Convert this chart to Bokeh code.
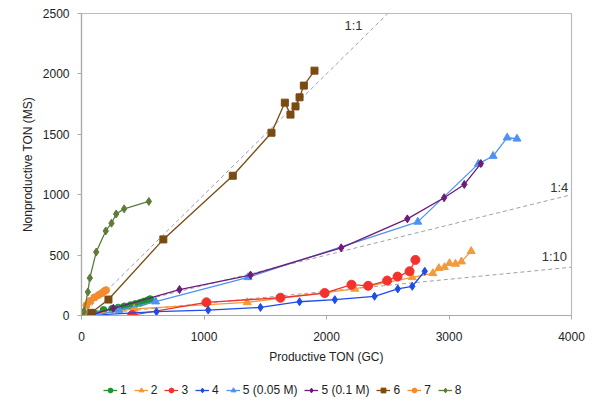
from bokeh.plotting import figure
from bokeh.layouts import column
from bokeh.models import Legend, LegendItem, FixedTicker, Label
from bokeh.embed import file_html
from bokeh.resources import INLINE

# ---- data ----
s1_x = [20, 100, 180, 250, 300, 350, 400, 440, 480, 510, 540, 560]
s1_y = [5, 20, 45, 55, 65, 75, 85, 95, 105, 115, 125, 135]
s2_x = [20, 430, 1353, 2231, 2700, 2868, 2917, 2963, 3004, 3053, 3102, 3181]
s2_y = [5, 55, 109, 220, 316, 349, 391, 399, 432, 427, 446, 532]
s3_x = [414, 1020, 1624, 1985, 2204, 2340, 2495, 2580, 2678, 2726]
s3_y = [4, 109, 147, 186, 255, 246, 289, 322, 366, 460]
s4_x = [0, 130, 612, 1034, 1461, 1780, 2068, 2392, 2582, 2700, 2802]
s4_y = [0, 5, 32, 45, 67, 114, 131, 159, 220, 242, 366]
s5a_x = [5, 135, 305, 605, 1360, 2745, 3240, 3360, 3475, 3555]
s5a_y = [0, 5, 45, 115, 316, 775, 1255, 1320, 1472, 1463]
s5b_x = [90, 260, 800, 1380, 2120, 2660, 2960, 3125, 3260]
s5b_y = [10, 60, 215, 335, 560, 800, 975, 1085, 1258]
s6_x = [80, 220, 668, 1235, 1551, 1660, 1706, 1747, 1780, 1815, 1902]
s6_y = [22, 132, 630, 1157, 1513, 1762, 1663, 1731, 1806, 1903, 2027]
s7_x = [10, 40, 70, 105, 140, 165, 185, 200]
s7_y = [15, 85, 120, 150, 170, 185, 200, 210]
s8_x = [5, 20, 52, 68, 120, 198, 245, 283, 348, 550]
s8_y = [5, 35, 195, 310, 525, 700, 764, 840, 883, 944]

series_names = ["1", "2", "3", "4", "5 (0.05 M)", "5 (0.1 M)", "6", "7", "8"]

ref_labels = ["1:1", "1:4", "1:10"]
ref_x_end = [2500, 4000, 4000]
ref_y_end = [2500, 1000, 400]
ref_label_x = [2220, 3900, 3860]
ref_label_y = [2400, 1060, 490]

x_ticks = [0, 1000, 2000, 3000, 4000]
y_ticks = [0, 500, 1000, 1500, 2000, 2500]

# ---- styling ----
FONT = "Liberation Sans"
colors = ["#1E9330", "#F39A3A", "#F2322B", "#1F4BE8", "#4F92F5",
          "#6D1C78", "#7B4A12", "#F58A2E", "#5C7C38"]
markers = ["circle", "triangle", "circle", "diamond", "triangle",
           "diamond", "square", "circle", "diamond"]
sizes = [7, 8, 9, 8, 8, 8, 7, 7, 8]

p = figure(frame_width=490, frame_height=302, output_backend="svg", toolbar_location=None,
           x_range=(0, 4000), y_range=(0, 2500),
           min_border_left=81, min_border_right=25, min_border_top=13, min_border_bottom=65)
p.grid.visible = False
p.outline_line_color = "#BBBBBB"
p.outline_line_width = 1.2
p.background_fill_color = "white"
p.border_fill_color = "white"

for ax in (p.xaxis[0], p.yaxis[0]):
    ax.axis_line_color = "#AAAAAA"
    ax.axis_line_width = 1.2
    ax.major_tick_line_color = "#AAAAAA"
    ax.major_tick_out = 4
    ax.major_tick_in = 0
    ax.minor_tick_line_color = None
    ax.major_label_text_font = FONT
    ax.major_label_text_font_size = "12px"
    ax.major_label_text_color = "#222222"
    ax.axis_label_text_font = FONT
    ax.axis_label_text_font_size = "12px"
    ax.axis_label_text_font_style = "normal"
    ax.axis_label_text_color = "#222222"

p.xaxis.ticker = FixedTicker(ticks=x_ticks)
p.yaxis.ticker = FixedTicker(ticks=y_ticks)
p.xaxis.axis_label = "Productive TON (GC)"
p.yaxis.axis_label = "Nonproductive TON (MS)"
p.xaxis.major_label_standoff = 12
p.yaxis.major_label_standoff = 8
p.xaxis.axis_label_standoff = 6
p.yaxis.axis_label_standoff = 5

# reference lines
for lab, xe, ye, lx, ly in zip(ref_labels, ref_x_end, ref_y_end, ref_label_x, ref_label_y):
    p.line([0, xe], [0, ye], line_color="#A0A0A0", line_dash="4 3", line_width=1)
    p.add_layout(Label(x=lx, y=ly, text=lab, text_font=FONT, text_font_size="13px",
                       text_color="#333333", text_align="center", text_baseline="middle"))

data = [(s1_x, s1_y), (s2_x, s2_y), (s3_x, s3_y), (s4_x, s4_y), (s5a_x, s5a_y),
        (s5b_x, s5b_y), (s6_x, s6_y), (s7_x, s7_y), (s8_x, s8_y)]

# legend strip (separate small figure below the chart)
leg = figure(width=596, height=24, output_backend="svg", toolbar_location=None,
             x_range=(-200, -100), y_range=(-200, -100),
             x_axis_location=None, y_axis_location=None, min_border=0,
             min_border_left=0, min_border_right=0, min_border_top=0, min_border_bottom=0)
leg.grid.visible = False
leg.outline_line_color = None
leg.border_fill_color = "white"

items = []
for name, (xs, ys), c, m, s in zip(series_names, data, colors, markers, sizes):
    p.line(xs, ys, line_color=c, line_width=1.3)
    p.scatter(xs, ys, marker=m, size=s, fill_color=c, line_color=c)
    l = leg.line(xs, ys, line_color=c, line_width=1.3)
    sc = leg.scatter(xs, ys, marker=m, size=6, fill_color=c, line_color=c)
    items.append(LegendItem(label=name, renderers=[l, sc]))

legend = Legend(items=items, orientation="horizontal", location=(22, 7),
                label_text_font=FONT, label_text_font_size="12px",
                label_text_color="#222222", glyph_width=14, glyph_height=12,
                spacing=7, label_standoff=3, padding=0, margin=0,
                label_width=6, label_height=12,
                border_line_color=None, background_fill_alpha=0)
leg.add_layout(legend, "center")

layout = column(p, leg, spacing=0)
open("out.html", "w").write(file_html(layout, INLINE))
